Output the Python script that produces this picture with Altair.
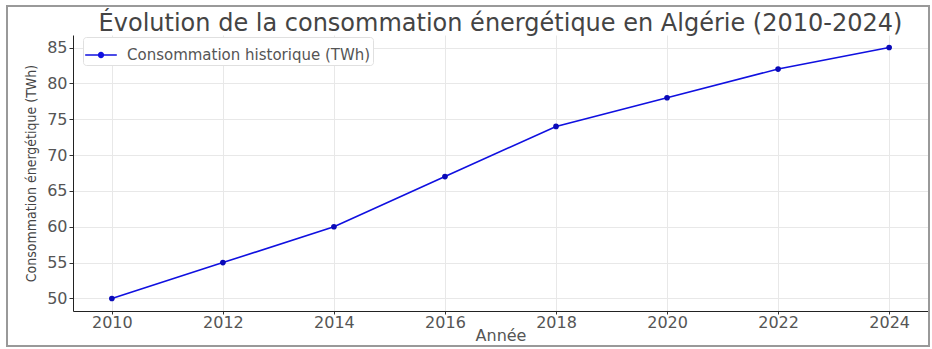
import altair as alt
import pandas as pd

years = [2010, 2012, 2014, 2016, 2018, 2020, 2022, 2024]
consumption = [50, 55, 60, 67, 74, 78, 82, 85]
series_name = "Consommation historique (TWh)"
x_ticks = [2010, 2012, 2014, 2016, 2018, 2020, 2022, 2024]
y_ticks = [50, 55, 60, 65, 70, 75, 80, 85]

df = pd.DataFrame({"Année": years, "Consommation": consumption, "Série": [series_name] * len(years)})

W, H = 855, 276
FONT = "DejaVu Sans"

legend_symbol = ("M-1,-0.05L1,-0.05L1,0.05L-1,0.05Z "
                 "M-0.2,0A0.2,0.2 0 1,1 0.2,0A0.2,0.2 0 1,1 -0.2,0Z")

base = alt.Chart(df).encode(
    x=alt.X("Année:Q",
            scale=alt.Scale(domain=[2009.3, 2024.7], nice=False, zero=False),
            axis=alt.Axis(values=x_ticks, format="d", title="Année",
                          titleFontSize=16, titleColor="#555", titleFont=FONT,
                          titleFontWeight="normal", titlePadding=-3,
                          labelFontSize=16, labelColor="#555", labelFont=FONT,
                          labelPadding=0, tickSize=3, tickColor="#333",
                          domainColor="#222", gridColor="#e8e8e8")),
    y=alt.Y("Consommation:Q",
            scale=alt.Scale(domain=[48.25, 86.75], nice=False, zero=False),
            axis=alt.Axis(values=y_ticks, title="Consommation énergétique (TWh)",
                          titleFontSize=14, titleColor="#444",
                          titleFont="DejaVu Sans Condensed, Liberation Sans Narrow, DejaVu Sans",
                          titleFontWeight="normal", titlePadding=8,
                          labelFontSize=16, labelColor="#555", labelFont=FONT,
                          labelPadding=2, tickSize=4, tickColor="#333",
                          domainColor="#222", gridColor="#e8e8e8")),
)

line = base.mark_line(strokeWidth=1.6).encode(
    color=alt.Color("Série:N",
                    scale=alt.Scale(range=["#1010e0"]),
                    legend=alt.Legend(title=None, orient="none", legendX=10, legendY=2,
                                      symbolType=legend_symbol, symbolSize=1000,
                                      symbolStrokeWidth=0, symbolFillColor="#1010e0",
                                      labelFontSize=15, labelColor="#555", labelFont=FONT,
                                      labelLimit=500,
                                      strokeColor="#e0e0e0", fillColor="white",
                                      padding=2, cornerRadius=3, labelOffset=10))
)
points = base.mark_circle(size=32, opacity=1, color="#0a0ab8")

frame = alt.Chart(df).mark_rect(fill=None, stroke="#999", strokeWidth=1.5, clip=False).encode(
    x=alt.value(-66), x2=alt.value(W + 1), y=alt.value(-29), y2=alt.value(H + 35)
)

chart = alt.layer(line, points, frame).properties(
    width=W, height=H,
    autosize=alt.AutoSizeParams(type="none"),
    padding={"left": 73, "top": 35, "right": 4, "bottom": 38},
    title=alt.Title("Évolution de la consommation énergétique en Algérie (2010-2024)",
                    fontSize=24, color="#444", font=FONT, fontWeight="normal",
                    anchor="middle", frame="group", offset=0, dy=31),
).configure_view(stroke=None)

chart.save("out.html", embed_options={"renderer": "svg", "actions": False})
